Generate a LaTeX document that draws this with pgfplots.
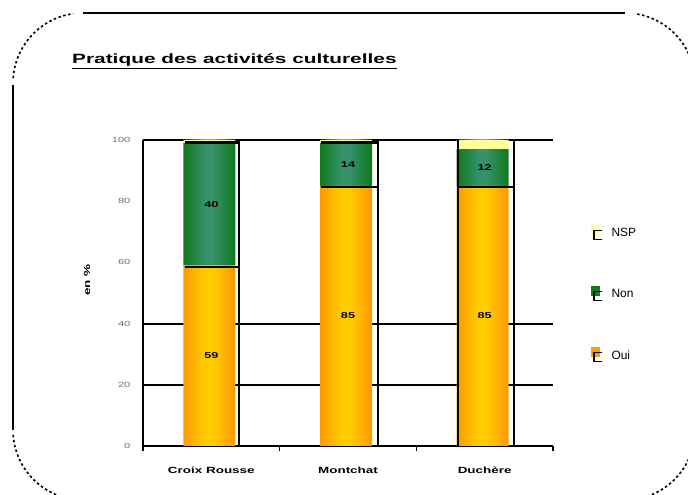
\documentclass[border=0pt]{standalone}
\usepackage{fontspec}
\setmainfont{Liberation Sans}
\newfontfamily\widefont{Liberation Sans}[FakeStretch=1.5]
\newfontfamily\titlewide{Liberation Sans}[FakeStretch=1.55]
\usepackage{pgfplots}
\usepackage{pgfplotstable}
\pgfplotsset{compat=1.18}

\definecolor{ouiEdge}{HTML}{FF9C00}
\definecolor{ouiMid}{HTML}{FFCC00}
\definecolor{nonEdge}{HTML}{137A22}
\definecolor{nonMid}{HTML}{35916A}
\definecolor{nspFill}{HTML}{FFFF99}
\definecolor{tickgray}{HTML}{707070}

\newcommand\titlefont{\titlewide\bfseries\fontsize{13.5}{16}\selectfont}
\newcommand\catfont{\widefont\bfseries\fontsize{9}{11}\selectfont}
\newcommand\tickfont{\widefont\fontsize{7.5}{9}\selectfont}
\newcommand\valfont{\widefont\bfseries\fontsize{8.5}{10}\selectfont}
\newcommand\legfont{\fontsize{12}{14}\selectfont}

% shares (%) per district: Oui / Non / NSP
\pgfplotstableread{
x oui non nsp
0 59 40 1
1 85 14 1
2 85 12 3
}\datatable

% common geometry of every axis layer
\pgfplotsset{
  chartgeom/.style={
    at={(143bp,49bp)}, anchor=south west,
    scale only axis, width=410bp, height=306bp,
    xmin=-0.5, xmax=2.5, ymin=0, ymax=100, clip=false,
  },
}

\begin{document}
\begin{tikzpicture}[x=1bp,y=1bp]
\useasboundingbox (0,0) rectangle (688,495);

% rounded frame round the chart
\begin{scope}
  \clip (0,0) rectangle (688,495);
  \draw[line width=1.6bp] (83,482) -- (625,482);
  \draw[line width=1.6bp] (13,410) -- (13,65);
  \begin{scope}[line width=1.6bp, dash pattern=on 2.5bp off 2.5bp]
    \draw (83,412) ++(176:70) arc[start angle=176, end angle=98, radius=70];
    \draw (625,412) ++(80:70) arc[start angle=80, end angle=0, radius=70];
    \draw (83,65) ++(184:70) arc[start angle=184, end angle=272, radius=70];
    \draw (625,65) ++(268:70) arc[start angle=268, end angle=360, radius=70];
  \end{scope}
\end{scope}

% title
\node[anchor=base west, inner sep=0pt, font=\titlefont] at (72,431)
  {\underline{Pratique des activités culturelles}};

% y label
\node[rotate=90, font=\widefont\bfseries\fontsize{9}{11}\selectfont] at (87,215) {en \%};

% base axis: grid, ticks, legend and the outer orange/green layer
\begin{axis}[
  chartgeom,
  ybar stacked, bar width=52bp, bar shift=-2bp,
  axis x line=bottom, axis y line=left,
  axis line style={-, line width=1.8bp, black},
  tick align=outside, major tick length=5bp,
  xtick={-0.5,0.5,1.5,2.5}, xticklabels={,,,},
  x tick style={black, line width=1.6bp},
  extra x ticks={0,1,2},
  extra x tick labels={Croix Rousse,Montchat,Duchère},
  extra x tick style={major tick length=0pt},
  xticklabel style={font=\catfont, text=black, yshift=-17bp},
  ytick={0,20,...,100}, y tick style={draw=none},
  yticklabel style={font=\tickfont, text=tickgray, xshift=-4bp},
  /pgf/number format/assume math mode=true,
  extra y ticks={20,40,100}, extra y tick labels={,,},
  extra y tick style={grid=major, major grid style={black, line width=2.1bp}},
  legend cell align=left,
  legend style={at={(1.084,0.729)}, anchor=north west, draw=none, fill=none,
    font=\legfont, row sep=46bp,
    /tikz/every odd column/.append style={column sep=7bp}},
]
\addplot[forget plot, draw=none, fill=ouiEdge] table[x=x, y=oui] {\datatable};
\addplot[forget plot, draw=none, fill=nonEdge] table[x=x, y=non] {\datatable};
\addplot[forget plot, draw=none, fill=nspFill] table[x=x, y=nsp] {\datatable};

\addlegendimage{legend image code/.code={
  \fill[nspFill] (0bp,-1bp) rectangle (8bp,8bp);
  \draw[black, line width=1.4bp] (11bp,-6bp) -- (3bp,-6bp) -- (3bp,3bp) -- (11bp,3bp);}}
\addlegendentry{NSP}
\addlegendimage{legend image code/.code={
  \fill[nonEdge] (0bp,-1bp) rectangle (8bp,8bp);
  \draw[black, line width=1.4bp] (11bp,-6bp) -- (3bp,-6bp) -- (3bp,3bp) -- (11bp,3bp);}}
\addlegendentry{Non}
\addlegendimage{legend image code/.code={
  \fill[ouiEdge] (0bp,-1bp) rectangle (8bp,8bp);
  \draw[black, line width=1.4bp] (11bp,-6bp) -- (3bp,-6bp) -- (3bp,3bp) -- (11bp,3bp);}}
\addlegendentry{Oui}
\end{axis}

% inner layers: narrower, lighter bars give the cylinder-like shading
\foreach \w/\m in {46/15, 40/30, 34/45, 28/60, 22/75, 16/88, 10/100} {
  \begin{axis}[chartgeom, hide axis,
    ybar stacked, bar width=\w bp, bar shift=-2bp]
  \addplot[draw=none, fill=ouiMid!\m!ouiEdge] table[x=x, y=oui] {\datatable};
  \addplot[draw=none, fill=nonMid!\m!nonEdge] table[x=x, y=non] {\datatable};
  \addplot[draw=none, fill=nspFill] table[x=x, y=nsp] {\datatable};
  \end{axis}
}

% value labels and the offset black outlines of the bars
\begin{axis}[chartgeom, hide axis]
\addplot[only marks, mark=none, nodes near coords, point meta=explicit symbolic,
  nodes near coords align=center,
  every node near coord/.append style={font=\valfont, text=black}]
  coordinates {(0,29.5)[59] (1,42.5)[85] (2,42.5)[85]
               (0,79)[40] (1,92)[14] (2,91)[12]};

\begin{scope}[black, line width=1.9bp]
  \draw (axis cs:0.202,0) -- (axis cs:0.202,100);
  \draw (axis cs:-0.193,58.5) -- (axis cs:0.202,58.5);
  \draw[line width=3bp] (axis cs:-0.193,99.2) -- (axis cs:0.202,99.2);
  \draw (axis cs:1.219,0) -- (axis cs:1.219,100);
  \draw (axis cs:0.802,84.7) -- (axis cs:1.219,84.7);
  \draw[line width=3bp] (axis cs:0.802,99.2) -- (axis cs:1.219,99.2);
  \draw (axis cs:1.804,0) -- (axis cs:1.804,100);
  \draw (axis cs:2.214,0) -- (axis cs:2.214,100);
  \draw (axis cs:1.804,84.7) -- (axis cs:2.214,84.7);
\end{scope}
\end{axis}
\end{tikzpicture}
\end{document}
